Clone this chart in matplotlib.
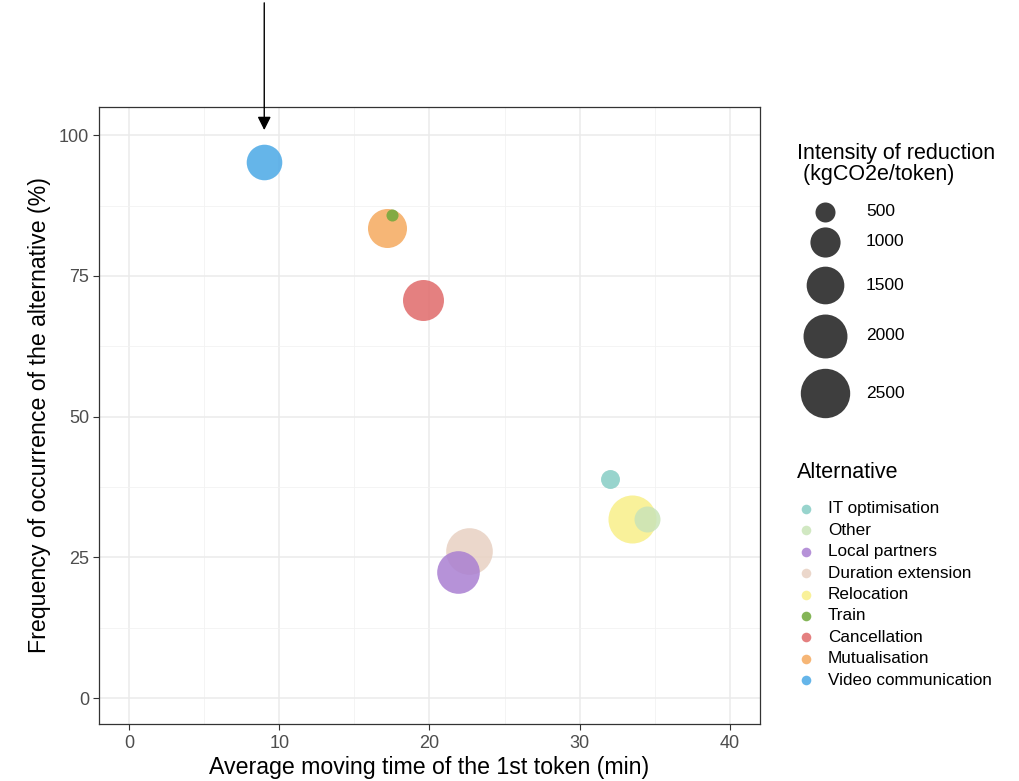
import matplotlib
matplotlib.use("Agg")
import matplotlib.pyplot as plt
import numpy as np

plt.rcParams['font.family'] = ['Liberation Sans', 'DejaVu Sans']

# data
alternatives = ['IT optimisation', 'Other', 'Local partners', 'Duration extension',
                'Relocation', 'Train', 'Cancellation', 'Mutualisation',
                'Video communication']
moving_time = [32.0, 34.5, 21.9, 22.6, 33.5, 17.5, 19.6, 17.2, 9.0]
frequency = [38.9, 31.8, 22.4, 26.1, 31.8, 85.8, 70.7, 83.5, 95.2]
intensity = [460, 770, 1890, 2240, 2370, 250, 1755, 1600, 1350]
colors = ['#86cdc5', '#c9e4b8', '#a97fd2', '#e8d1c2', '#f8ef88', '#6fa83a',
          '#e06a6a', '#f5a95e', '#4aa8e6']
draw_order = [3, 2, 4, 1, 0, 7, 5, 6, 8]

size_breaks = [500, 1000, 1500, 2000, 2500]

DPI = 100


def marker_area(v):
    # area-proportional mapping, radius in pixels -> points^2
    r_px = np.sqrt(100 + 0.255 * (np.asarray(v, dtype=float) - 500))
    return (2 * r_px * 72 / DPI) ** 2


fig = plt.figure(figsize=(10.2, 7.81), dpi=DPI)
ax = fig.add_axes([99 / 1020, 57 / 781, 661 / 1020, 617 / 781])

for i in draw_order:
    ax.scatter(moving_time[i], frequency[i], s=marker_area(intensity[i]),
               color=colors[i], alpha=0.85, linewidths=0, zorder=3)

ax.set_xlim(-2, 42)
ax.set_ylim(-4.6, 105)
ax.set_xticks([0, 10, 20, 30, 40])
ax.set_yticks([0, 25, 50, 75, 100])
ax.set_xticks([5, 15, 25, 35], minor=True)
ax.set_yticks([12.5, 37.5, 62.5, 87.5], minor=True)
ax.grid(which='major', color='#ebebeb', linewidth=1.1, zorder=0)
ax.grid(which='minor', color='#f2f2f2', linewidth=0.6, zorder=0)
ax.set_axisbelow(True)
for sp in ax.spines.values():
    sp.set_color('#333333')
    sp.set_linewidth(0.9)
ax.tick_params(which='major', length=4, width=0.8, color='#333333',
               labelcolor='#4d4d4d', labelsize=13)
ax.tick_params(axis='y', pad=3)
ax.tick_params(axis='x', pad=4)
ax.tick_params(which='minor', length=0)
ax.set_xlabel('Average moving time of the 1st token (min)', fontsize=16.7, labelpad=3)
ax.set_ylabel('Frequency of occurrence of the alternative (%)', fontsize=16.7, labelpad=6)

# arrow pointing at the video communication point
ax.annotate('', xy=(9.0, 100.9), xytext=(9.0, 123.5), annotation_clip=False,
            arrowprops=dict(arrowstyle='-|>', color='black', lw=1.0,
                            mutation_scale=20, shrinkA=0, shrinkB=0))

# size legend
fig.text(797 / 1020, 1 - 164 / 781, 'Intensity of reduction\n (kgCO2e/token)',
         fontsize=15.5, va='center', ha='left', linespacing=1.05)
lax = fig.add_axes([0, 0, 1, 1], facecolor='none')
lax.set_xlim(0, 1020)
lax.set_ylim(781, 0)
lax.axis('off')
size_y = [212, 242, 285, 336, 393]
for v, y in zip(size_breaks, size_y):
    lax.scatter(825, y, s=marker_area(v), color='#333333', alpha=0.95, linewidths=0)
    lax.text(866, y, str(v), fontsize=12.5, va='center', ha='left')

# colour legend
fig.text(797 / 1020, 1 - 473 / 781, 'Alternative', fontsize=15.5, va='center', ha='left')
for k, name in enumerate(alternatives):
    y = 509 + k * 21.4
    lax.scatter(806, y, s=48, color=colors[k], alpha=0.85, linewidths=0)
    lax.text(828, y, name, fontsize=12.3, va='center', ha='left')

fig.savefig('out.png', dpi=DPI)
